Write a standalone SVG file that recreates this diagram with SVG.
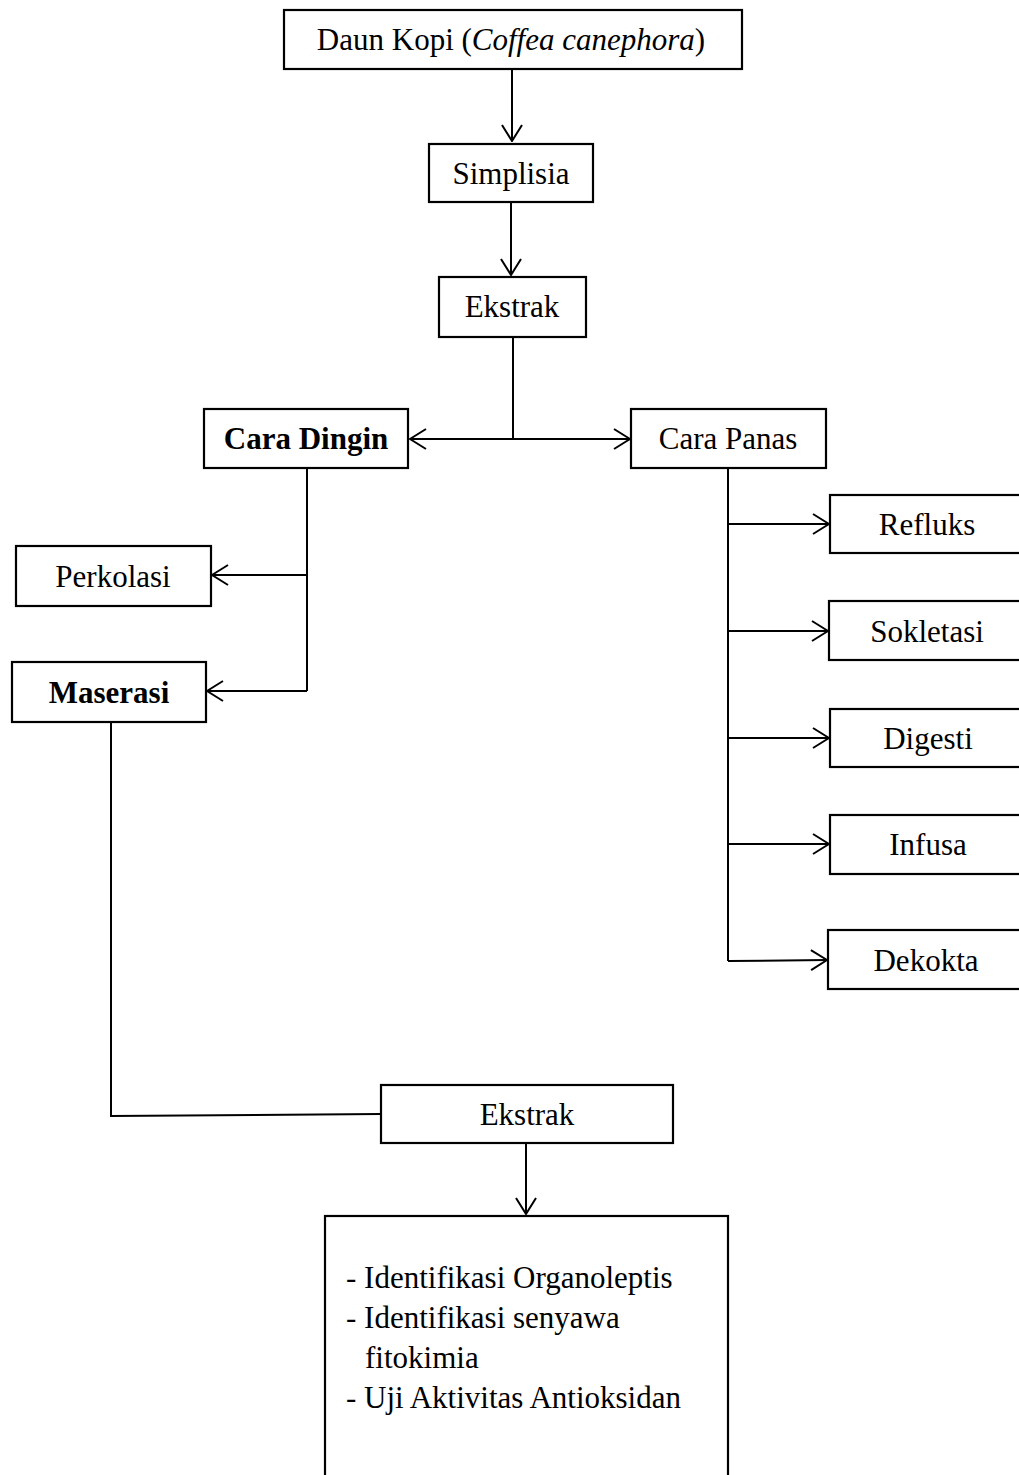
<svg xmlns="http://www.w3.org/2000/svg" width="1019" height="1475" viewBox="0 0 1019 1475">
<style>
.box{fill:#fff;stroke:#000;stroke-width:2.2}
.t{font-family:"Liberation Serif","Times New Roman",serif;font-size:31px;fill:#000;text-anchor:middle}
.b{font-weight:bold}
.l{font-family:"Liberation Serif","Times New Roman",serif;font-size:31px;fill:#000}
.c{fill:none;stroke:#000;stroke-width:2}
</style>
<defs>
<marker id="ah" viewBox="0 0 18 22" refX="17" refY="11" markerWidth="18" markerHeight="22" markerUnits="userSpaceOnUse" orient="auto">
<path d="M1,1 L17,11 L1,21" fill="none" stroke="#000" stroke-width="2"/>
</marker>
</defs>
<rect width="1019" height="1475" fill="#fff"/>
<g id="connectors">
<path class="c" d="M512,69 V141" marker-end="url(#ah)"/>
<path class="c" d="M511,202 V275" marker-end="url(#ah)"/>
<path class="c" d="M513,337 V439"/>
<path class="c" d="M513,439 H410" marker-end="url(#ah)"/>
<path class="c" d="M513,439 H630" marker-end="url(#ah)"/>
<path class="c" d="M307,468 V691"/>
<path class="c" d="M307,575 H212" marker-end="url(#ah)"/>
<path class="c" d="M307,691 H207" marker-end="url(#ah)"/>
<path class="c" d="M728,468 V961"/>
<path class="c" d="M728,524 H829" marker-end="url(#ah)"/>
<path class="c" d="M728,631 H828" marker-end="url(#ah)"/>
<path class="c" d="M728,738 H829" marker-end="url(#ah)"/>
<path class="c" d="M728,844 H829" marker-end="url(#ah)"/>
<path class="c" d="M728,961 L827,960" marker-end="url(#ah)"/>
<path class="c" d="M111,722 V1116 L381,1114"/>
<path class="c" d="M526,1143 V1214" marker-end="url(#ah)"/>
</g>
<g id="n-daun"><rect class="box" x="284" y="10" width="458" height="59"/><text class="t" x="511" y="50">Daun Kopi (<tspan font-style="italic">Coffea canephora</tspan>)</text></g>
<g id="n-simplisia"><rect class="box" x="429" y="144" width="164" height="58"/><text class="t" x="511" y="184">Simplisia</text></g>
<g id="n-ekstrak1"><rect class="box" x="439" y="277" width="147" height="60"/><text class="t" x="512" y="317">Ekstrak</text></g>
<g id="n-dingin"><rect class="box" x="204" y="409" width="204" height="59"/><text class="t b" x="306" y="449">Cara Dingin</text></g>
<g id="n-panas"><rect class="box" x="631" y="409" width="195" height="59"/><text class="t" x="728" y="449">Cara Panas</text></g>
<g id="n-perkolasi"><rect class="box" x="16" y="546" width="195" height="60"/><text class="t" x="113" y="587">Perkolasi</text></g>
<g id="n-maserasi"><rect class="box" x="12" y="662" width="194" height="60"/><text class="t b" x="109" y="703">Maserasi</text></g>
<g id="n-refluks"><rect class="box" x="830" y="495" width="196" height="58"/><text class="t" x="927" y="535">Refluks</text></g>
<g id="n-sokletasi"><rect class="box" x="829" y="601" width="197" height="59"/><text class="t" x="927" y="642">Sokletasi</text></g>
<g id="n-digesti"><rect class="box" x="830" y="709" width="196" height="58"/><text class="t" x="928" y="749">Digesti</text></g>
<g id="n-infusa"><rect class="box" x="830" y="815" width="196" height="59"/><text class="t" x="928" y="855">Infusa</text></g>
<g id="n-dekokta"><rect class="box" x="828" y="930" width="198" height="59"/><text class="t" x="926" y="971">Dekokta</text></g>
<g id="n-ekstrak2"><rect class="box" x="381" y="1085" width="292" height="58"/><text class="t" x="527" y="1125">Ekstrak</text></g>
<g id="n-uji"><rect class="box" x="325" y="1216" width="403" height="280"/>
<text class="l" x="346" y="1288">- Identifikasi Organoleptis</text>
<text class="l" x="346" y="1328">- Identifikasi senyawa</text>
<text class="l" x="365" y="1368">fitokimia</text>
<text class="l" x="346" y="1408">- Uji Aktivitas Antioksidan</text>
</g>
</svg>
